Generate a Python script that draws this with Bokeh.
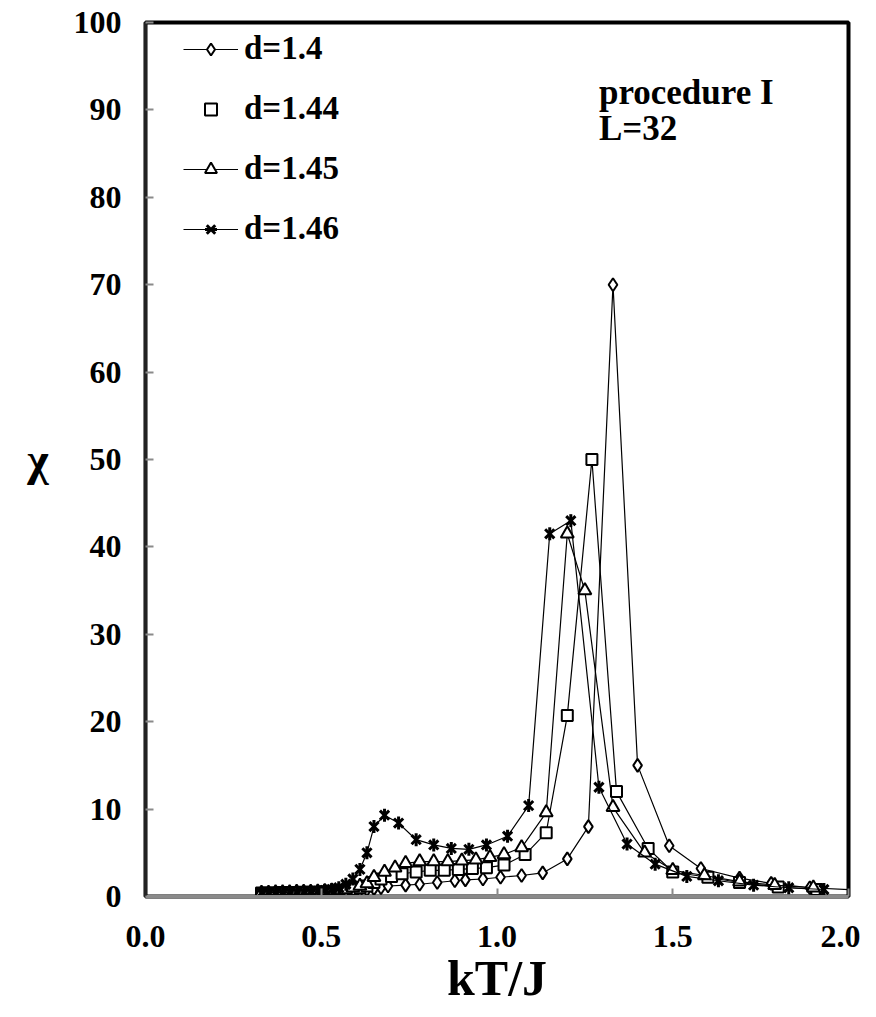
from bokeh.plotting import figure
from bokeh.models import Range1d, FixedTicker, NumeralTickFormatter, Legend, LegendItem, Label
from bokeh.embed import file_html
from bokeh.resources import INLINE

# ---- data ----
dense_x = [0.33, 0.35, 0.37, 0.39, 0.41, 0.43, 0.45, 0.47, 0.49, 0.51, 0.53, 0.55, 0.57, 0.59, 0.61]

x_d140 = dense_x + [0.63, 0.65, 0.67, 0.69, 0.74, 0.78, 0.83, 0.88, 0.91, 0.96, 1.01, 1.07, 1.13,
                    1.20, 1.26, 1.33, 1.40, 1.49, 1.58, 1.69, 1.78, 1.89, 2.05]
y_d140 = [0.4, 0.4, 0.4, 0.4, 0.4, 0.45, 0.45, 0.45, 0.5, 0.5, 0.5, 0.55, 0.6, 0.65, 0.7,
          0.8, 0.9, 1.0, 1.2, 1.3, 1.4, 1.6, 1.8, 1.9, 2.0, 2.2, 2.4, 2.7,
          4.3, 8.0, 70.0, 15.0, 5.8, 3.2, 2.1, 1.5, 1.0, 0.7]

x_d144 = dense_x + [0.63, 0.65, 0.67, 0.70, 0.73, 0.77, 0.81, 0.85, 0.89, 0.93, 0.97, 1.02, 1.08,
                    1.14, 1.20, 1.27, 1.34, 1.43, 1.50, 1.60, 1.69, 1.80, 1.91]
y_d144 = [0.4, 0.4, 0.4, 0.45, 0.45, 0.45, 0.5, 0.5, 0.5, 0.55, 0.6, 0.65, 0.7, 0.8, 1.0,
          1.2, 1.6, 2.0, 2.3, 2.6, 2.8, 3.0, 3.0, 3.1, 3.2, 3.3, 3.6, 4.8,
          7.3, 20.7, 50.0, 12.0, 5.5, 2.8, 2.2, 1.6, 1.1, 0.8]

x_d145 = dense_x + [0.63, 0.65, 0.68, 0.71, 0.74, 0.78, 0.82, 0.86, 0.90, 0.94, 0.98, 1.02, 1.07,
                    1.14, 1.20, 1.25, 1.33, 1.42, 1.50, 1.59, 1.69, 1.79, 1.90]
y_d145 = [0.4, 0.4, 0.45, 0.45, 0.45, 0.5, 0.5, 0.5, 0.55, 0.6, 0.65, 0.7, 0.8, 1.0, 1.2,
          1.5, 2.2, 2.8, 3.3, 3.8, 4.0, 4.0, 4.0, 4.1, 4.2, 4.5, 4.8, 5.6,
          9.6, 41.5, 35.0, 10.2, 5.0, 3.0, 2.4, 1.7, 1.3, 1.0]

x_d146 = dense_x + [0.63, 0.65, 0.68, 0.72, 0.77, 0.82, 0.87, 0.92, 0.97, 1.03, 1.09, 1.15, 1.21,
                    1.29, 1.37, 1.45, 1.54, 1.63, 1.73, 1.83, 1.93]
y_d146 = [0.4, 0.45, 0.45, 0.45, 0.5, 0.5, 0.5, 0.55, 0.6, 0.7, 0.8, 1.0, 1.4, 2.0, 3.1,
          5.0, 8.0, 9.3, 8.4, 6.5, 5.9, 5.5, 5.4, 5.9, 6.9, 10.4, 41.5, 43.0,
          12.5, 6.0, 3.7, 2.3, 1.8, 1.3, 1.0, 0.8]

series_labels = ["d=1.4", "d=1.44", "d=1.45", "d=1.46"]
y_ticks = [0, 10, 20, 30, 40, 50, 60, 70, 80, 90, 100]
x_ticks = [0.0, 0.5, 1.0, 1.5, 2.0]

SERIF = "Liberation Serif"

p = figure(width=860, height=1008, output_backend="svg", toolbar_location=None,
           x_range=Range1d(0, 2), y_range=Range1d(0, 100),
           min_border_left=145, min_border_right=12, min_border_top=22, min_border_bottom=108)
p.background_fill_color = "white"
p.border_fill_color = "white"
p.grid.visible = False
p.outline_line_color = "black"
p.outline_line_width = 4

# axes
for ax in (p.xaxis, p.yaxis):
    ax.major_label_text_font = SERIF
    ax.major_label_text_font_style = "bold"
    ax.major_label_text_font_size = "32px"
    ax.major_label_text_color = "black"
    ax.axis_label_text_font = SERIF
    ax.axis_label_text_font_style = "bold"
    ax.axis_label_text_color = "black"
    ax.major_tick_in = 8
    ax.major_tick_out = 0
    ax.minor_tick_line_color = None
    ax.major_tick_line_color = "#8a8a8a"
    ax.major_tick_line_width = 2

p.xaxis.ticker = FixedTicker(ticks=x_ticks)
p.xaxis.formatter = NumeralTickFormatter(format="0.0")
p.yaxis.ticker = FixedTicker(ticks=y_ticks)
p.xaxis.axis_line_color = "#8a8a8a"
p.xaxis.axis_line_width = 3
p.yaxis.axis_line_color = "#222222"
p.yaxis.axis_line_width = 3
p.xaxis.major_label_standoff = 29
p.yaxis.major_label_standoff = 24
p.xaxis.axis_label = "kT/J"
p.xaxis.axis_label_text_font_size = "50px"
p.xaxis.axis_label_standoff = 0
p.yaxis.axis_label = "χ"
p.yaxis.axis_label_text_font_size = "46px"
p.yaxis.axis_label_standoff = 22
p.yaxis.axis_label_orientation = "horizontal"

mk = dict(line_color="black", fill_color="white", line_width=2)

l1 = p.line(x_d140, y_d140, line_color="black", line_width=1.2)
m1 = p.scatter(x_d140, y_d140, marker="diamond", size=13, **mk)

l2 = p.line(x_d144, y_d144, line_color="black", line_width=1.2)
m2 = p.scatter(x_d144, y_d144, marker="square", size=11, **mk)

l3 = p.line(x_d145, y_d145, line_color="black", line_width=1.2)
m3 = p.scatter(x_d145, y_d145, marker="triangle", size=13, **mk)

l4 = p.line(x_d146, y_d146, line_color="black", line_width=1.2)
m4a = p.scatter(x_d146, y_d146, marker="x", size=13, line_color="black", line_width=3)
m4b = p.scatter(x_d146, y_d146, marker="dash", size=13, angle=1.5708, line_color="black", line_width=3)

legend = Legend(items=[
    LegendItem(label=series_labels[0], renderers=[l1, m1]),
    LegendItem(label=series_labels[1], renderers=[m2]),
    LegendItem(label=series_labels[2], renderers=[l3, m3]),
    LegendItem(label=series_labels[3], renderers=[l4, m4a, m4b]),
], location=(38, 649))
legend.label_text_font = SERIF
legend.label_text_font_style = "bold"
legend.label_text_font_size = "33px"
legend.label_text_color = "black"
legend.glyph_width = 55
legend.glyph_height = 30
legend.label_height = 30
legend.spacing = 23
legend.padding = 0
legend.margin = 0
legend.label_standoff = 6
legend.border_line_color = None
legend.background_fill_alpha = 0
p.add_layout(legend, "center")

p.add_layout(Label(x=1.29, y=92.0, text="procedure I", text_font=SERIF, text_font_style="bold",
                   text_font_size="35px", text_baseline="middle", text_color="black"))
p.add_layout(Label(x=1.29, y=87.9, text="L=32", text_font=SERIF, text_font_style="bold",
                   text_font_size="35px", text_baseline="middle", text_color="black"))

open("out.html", "w").write(file_html(p, INLINE))
